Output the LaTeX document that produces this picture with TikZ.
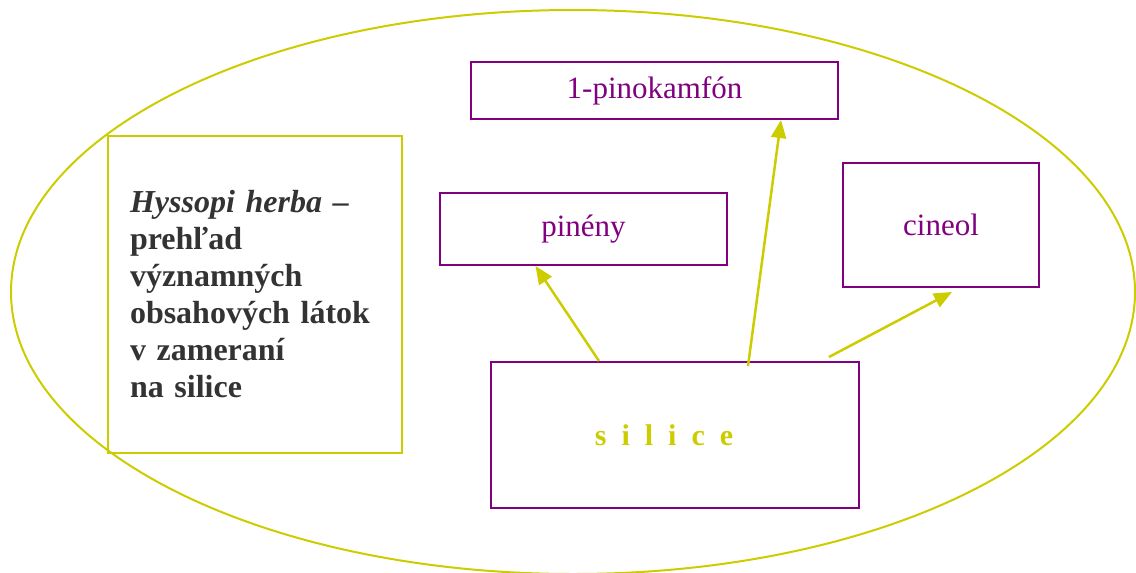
\documentclass[tikz,border=0pt]{standalone}
\usepackage{fontspec}
\setmainfont{Liberation Serif}
\usetikzlibrary{arrows.meta}
\definecolor{latkapurple}{HTML}{800080}
\definecolor{siliceyellow}{HTML}{CCCC00}
\definecolor{textgray}{HTML}{333333}

\begin{document}
\begin{tikzpicture}[x=1pt,y=-1pt,
  latka/.style={draw=latkapurple,line width=2pt,text=latkapurple,inner sep=0pt,
    font=\fontsize{31}{37}\selectfont},
  sipka/.style={draw=siliceyellow,line width=2.5pt,-{Triangle[length=18pt,width=15pt]}}]
\useasboundingbox (0,0) rectangle (1136,573);
\draw[siliceyellow,line width=2pt] (573,292) ellipse [x radius=562, y radius=282];

\node[draw=siliceyellow,line width=2pt,minimum width=294pt,minimum height=317pt,
  text width=250pt,inner xsep=22pt,inner ysep=0pt,align=left,text=textgray,
  font=\fontsize{32}{37}\selectfont\bfseries] (nadpis) at (255,294.5)
  {\textit{Hyssopi herba} –\\prehľad\\významných\\obsahových látok\\v zameraní\\na silice};

\node[latka,minimum width=367pt,minimum height=57pt] (pinokamfon) at (654.5,90.5) {1-pinokamfón};
\node[latka,minimum width=287pt,minimum height=72pt] (pineny) at (583.5,229) {pinény};
\node[latka,minimum width=196pt,minimum height=124pt] (cineol) at (941,225) {cineol};
\node[latka,minimum width=368pt,minimum height=146pt,text=siliceyellow,
  font=\fontsize{30}{36}\selectfont\bfseries] (silice) at (675,435)
  {s\kern15pt i\kern15pt l\kern15pt i\kern15pt c\kern15pt e\kern22pt};

\draw[sipka] ([xshift=109pt]silice.north west) -- ([xshift=-48pt]pineny.south);
\draw[sipka] ([xshift=73pt,yshift=-5pt]silice.north) -- ([xshift=126.5pt]pinokamfon.south);
\draw[sipka] ([xshift=-31pt,yshift=4pt]silice.north east) -- ([xshift=11pt,yshift=-4pt]cineol.south);
\end{tikzpicture}
\end{document}
